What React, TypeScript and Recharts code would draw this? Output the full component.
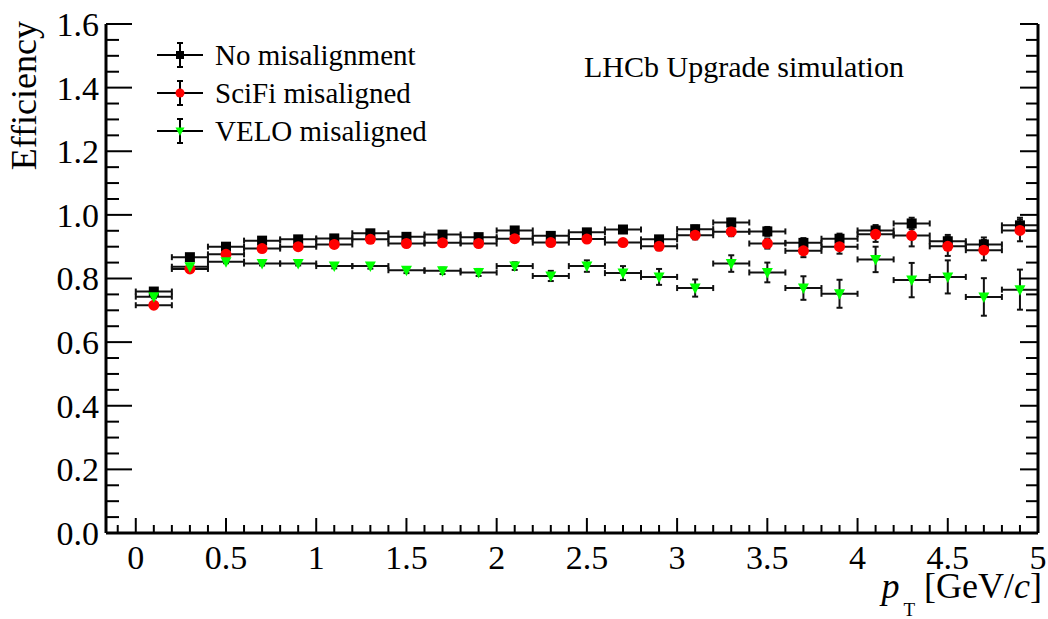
import React from 'react';
import { ScatterChart, Scatter, XAxis, YAxis, ErrorBar, Label } from 'recharts';

// pT bin centres [GeV/c], bins are 0.2 wide
const binCenters = [0.1, 0.3, 0.5, 0.7, 0.9, 1.1, 1.3, 1.5, 1.7, 1.9, 2.1, 2.3, 2.5, 2.7, 2.9, 3.1, 3.3, 3.5, 3.7, 3.9, 4.1, 4.3, 4.5, 4.7, 4.9];
const binHalfWidth = 0.1;

const effNoMisalign = [0.759, 0.867, 0.9, 0.919, 0.923, 0.926, 0.942, 0.931, 0.938, 0.93, 0.951, 0.934, 0.945, 0.954, 0.923, 0.955, 0.976, 0.948, 0.912, 0.925, 0.951, 0.973, 0.917, 0.907, 0.967];
const errNoMisalign = [0.004, 0.004, 0.004, 0.004, 0.005, 0.005, 0.005, 0.006, 0.006, 0.007, 0.007, 0.008, 0.008, 0.009, 0.01, 0.011, 0.012, 0.014, 0.015, 0.016, 0.017, 0.018, 0.02, 0.022, 0.024];

const effSciFi = [0.716, 0.83, 0.876, 0.894, 0.9, 0.907, 0.923, 0.91, 0.912, 0.91, 0.925, 0.913, 0.924, 0.913, 0.901, 0.936, 0.947, 0.91, 0.887, 0.9, 0.939, 0.935, 0.901, 0.889, 0.951];
const errSciFi = [0.005, 0.005, 0.005, 0.005, 0.006, 0.006, 0.006, 0.007, 0.007, 0.008, 0.008, 0.009, 0.01, 0.011, 0.012, 0.013, 0.014, 0.016, 0.02, 0.022, 0.024, 0.034, 0.03, 0.032, 0.034];

const effVelo = [0.743, 0.837, 0.853, 0.847, 0.847, 0.839, 0.839, 0.826, 0.824, 0.819, 0.839, 0.808, 0.839, 0.817, 0.805, 0.77, 0.847, 0.819, 0.77, 0.752, 0.86, 0.795, 0.805, 0.742, 0.765];
const errVelo = [0.005, 0.005, 0.005, 0.006, 0.006, 0.007, 0.008, 0.009, 0.01, 0.011, 0.012, 0.016, 0.018, 0.022, 0.025, 0.027, 0.026, 0.031, 0.037, 0.044, 0.04, 0.054, 0.052, 0.059, 0.063];

const xTicks = [-0.1, 0, 0.1, 0.2, 0.3, 0.4, 0.5, 0.6, 0.7, 0.8, 0.9, 1, 1.1, 1.2, 1.3, 1.4, 1.5, 1.6, 1.7, 1.8, 1.9, 2, 2.1, 2.2, 2.3, 2.4, 2.5, 2.6, 2.7, 2.8, 2.9, 3, 3.1, 3.2, 3.3, 3.4, 3.5, 3.6, 3.7, 3.8, 3.9, 4, 4.1, 4.2, 4.3, 4.4, 4.5, 4.6, 4.7, 4.8, 4.9, 5];
const yTicks = [0, 0.05, 0.1, 0.15, 0.2, 0.25, 0.3, 0.35, 0.4, 0.45, 0.5, 0.55, 0.6, 0.65, 0.7, 0.75, 0.8, 0.85, 0.9, 0.95, 1, 1.05, 1.1, 1.15, 1.2, 1.25, 1.3, 1.35, 1.4, 1.45, 1.5, 1.55, 1.6];

const seriesNames = ['No misalignment', 'SciFi misaligned', 'VELO misaligned'];

const toRows = (eff: number[], err: number[]) =>
  binCenters.map((x, i) => ({ x, y: eff[i], ex: binHalfWidth, ey: err[i] }));

const rowsNoMisalign = toRows(effNoMisalign, errNoMisalign);
const rowsSciFi = toRows(effSciFi, errSciFi);
const rowsVelo = toRows(effVelo, errVelo);

const FONT = '"Liberation Serif", "Times New Roman", serif';
const W = 1048;
const H = 619;
const GREEN = '#00ff00';

const isMajorX = (v: number) => Math.abs(v * 2 - Math.round(v * 2)) < 1e-6;
const isMajorY = (v: number) => Math.abs(v * 5 - Math.round(v * 5)) < 1e-6;

const BottomTick = (props: any) => {
  const { x, y, payload } = props;
  const major = isMajorX(payload.value);
  return (
    <g>
      <line x1={x} x2={x} y1={y} y2={y - (major ? 15 : 8)} stroke="#000" strokeWidth={2} />
      {major && payload.value >= 0 && (
        <text x={x} y={y + 36} textAnchor="middle" fontSize={34} fontFamily={FONT} fill="#000">
          {String(payload.value)}
        </text>
      )}
    </g>
  );
};

const TopTick = (props: any) => {
  const { x, y, payload } = props;
  const major = isMajorX(payload.value);
  return <line x1={x} x2={x} y1={y} y2={y + (major ? 14 : 9)} stroke="#000" strokeWidth={2} />;
};

const LeftTick = (props: any) => {
  const { x, y, payload } = props;
  const major = isMajorY(payload.value);
  return (
    <g>
      <line x1={x} x2={x + (major ? 26 : 13)} y1={y} y2={y} stroke="#000" strokeWidth={2} />
      {major && (
        <text x={x - 7} y={y} dy="0.35em" textAnchor="end" fontSize={34} fontFamily={FONT} fill="#000">
          {payload.value.toFixed(1)}
        </text>
      )}
    </g>
  );
};

const RightTick = (props: any) => {
  const { x, y, payload } = props;
  const major = isMajorY(payload.value);
  return <line x1={x} x2={x - (major ? 18 : 12)} y1={y} y2={y} stroke="#000" strokeWidth={2} />;
};

const SquareMarker = ({ cx, cy }: any) => <rect x={cx - 5} y={cy - 5} width={10} height={10} fill="#000" />;
const CircleMarker = ({ cx, cy }: any) => <circle cx={cx} cy={cy} r={5.5} fill="#ff0000" />;
const TriangleMarker = ({ cx, cy }: any) => (
  <polygon points={`${cx - 5.5},${cy - 4.5} ${cx + 5.5},${cy - 4.5} ${cx},${cy + 6}`} fill={GREEN} />
);

const YTitle = () => (
  <text transform="translate(36, 21) rotate(-90)" textAnchor="end" fontSize={36} fontFamily={FONT} fill="#000">
    Efficiency
  </text>
);

const XTitle = ({ viewBox }: any) => (
  <text x={viewBox.x + viewBox.width + 4} y={viewBox.y + 65} textAnchor="end" fontSize={36} fontFamily={FONT} fill="#000">
    <tspan fontStyle="italic">p</tspan>
    <tspan fontSize={19} dx={4} dy={18}>T</tspan>
    <tspan dy={-18}> [GeV/</tspan>
    <tspan fontStyle="italic">c</tspan>
    <tspan>]</tspan>
  </text>
);

const legendMarkers = [
  (cx: number, cy: number) => <rect x={cx - 4} y={cy - 4} width={8} height={8} fill="#000" />,
  (cx: number, cy: number) => <circle cx={cx} cy={cy} r={4.5} fill="#ff0000" />,
  (cx: number, cy: number) => (
    <polygon points={`${cx - 4.5},${cy - 3.5} ${cx + 4.5},${cy - 3.5} ${cx},${cy + 5}`} fill={GREEN} />
  ),
];

const Overlay = () => (
  <svg width={W} height={H} style={{ position: 'absolute', left: 0, top: 0, pointerEvents: 'none' }}>
    {seriesNames.map((name, i) => {
      const cy = 55 + i * 38;
      const cx = 180;
      return (
        <g key={name}>
          <line x1={cx - 23} x2={cx + 23} y1={cy} y2={cy} stroke="#000" strokeWidth={2} />
          <line x1={cx} x2={cx} y1={cy - 12} y2={cy + 12} stroke="#000" strokeWidth={2} />
          <line x1={cx - 3} x2={cx + 3} y1={cy - 12} y2={cy - 12} stroke="#000" strokeWidth={2} />
          <line x1={cx - 3} x2={cx + 3} y1={cy + 12} y2={cy + 12} stroke="#000" strokeWidth={2} />
          {legendMarkers[i](cx, cy)}
          <text x={215} y={cy} dy="0.33em" fontSize={29} fontFamily={FONT} fill="#000">
            {name}
          </text>
        </g>
      );
    })}
    <text x={584} y={77} fontSize={30} fontFamily={FONT} fill="#000">
      LHCb Upgrade simulation
    </text>
  </svg>
);

export default function App() {
  return (
    <div style={{ position: 'absolute', left: 0, top: 0, width: W, height: H, background: '#fff' }}>
      <ScatterChart width={W} height={H} margin={{ top: 24, right: 9, bottom: 0, left: 0 }}>
        <XAxis
          xAxisId="bottom"
          type="number"
          dataKey="x"
          domain={[-0.165, 5]}
          allowDataOverflow
          ticks={xTicks}
          interval={0}
          tickSize={0}
          tickMargin={0}
          tick={<BottomTick />}
          height={86}
          axisLine={{ stroke: '#000', strokeWidth: 3 }}
        >
          <Label content={<XTitle />} />
        </XAxis>
        <XAxis
          xAxisId="top"
          orientation="top"
          type="number"
          dataKey="x"
          domain={[-0.165, 5]}
          allowDataOverflow
          ticks={xTicks}
          interval={0}
          tickSize={0}
          tickMargin={0}
          tick={<TopTick />}
          height={0}
          axisLine={{ stroke: '#000', strokeWidth: 3 }}
        />
        <YAxis
          yAxisId="left"
          type="number"
          dataKey="y"
          domain={[0, 1.6]}
          allowDataOverflow
          ticks={yTicks}
          interval={0}
          tickSize={0}
          tickMargin={0}
          tick={<LeftTick />}
          width={106}
          axisLine={{ stroke: '#000', strokeWidth: 3 }}
        >
          <Label content={<YTitle />} />
        </YAxis>
        <YAxis
          yAxisId="right"
          orientation="right"
          type="number"
          dataKey="y"
          domain={[0, 1.6]}
          allowDataOverflow
          ticks={yTicks}
          interval={0}
          tickSize={0}
          tickMargin={0}
          tick={<RightTick />}
          width={1}
          axisLine={{ stroke: '#000', strokeWidth: 3 }}
        />
        <Scatter
          name={seriesNames[0]}
          data={rowsNoMisalign}
          xAxisId="bottom"
          yAxisId="left"
          shape={<SquareMarker />}
          isAnimationActive={false}
        >
          <ErrorBar dataKey="ex" direction="x" width={3} stroke="#111" strokeWidth={2} isAnimationActive={false} />
          <ErrorBar dataKey="ey" direction="y" width={3} stroke="#111" strokeWidth={2} isAnimationActive={false} />
        </Scatter>
        <Scatter
          name={seriesNames[1]}
          data={rowsSciFi}
          xAxisId="bottom"
          yAxisId="left"
          shape={<CircleMarker />}
          isAnimationActive={false}
        >
          <ErrorBar dataKey="ex" direction="x" width={3} stroke="#111" strokeWidth={2} isAnimationActive={false} />
          <ErrorBar dataKey="ey" direction="y" width={3} stroke="#111" strokeWidth={2} isAnimationActive={false} />
        </Scatter>
        <Scatter
          name={seriesNames[2]}
          data={rowsVelo}
          xAxisId="bottom"
          yAxisId="left"
          shape={<TriangleMarker />}
          isAnimationActive={false}
        >
          <ErrorBar dataKey="ex" direction="x" width={3} stroke="#111" strokeWidth={2} isAnimationActive={false} />
          <ErrorBar dataKey="ey" direction="y" width={3} stroke="#111" strokeWidth={2} isAnimationActive={false} />
        </Scatter>
      </ScatterChart>
      <Overlay />
    </div>
  );
}
